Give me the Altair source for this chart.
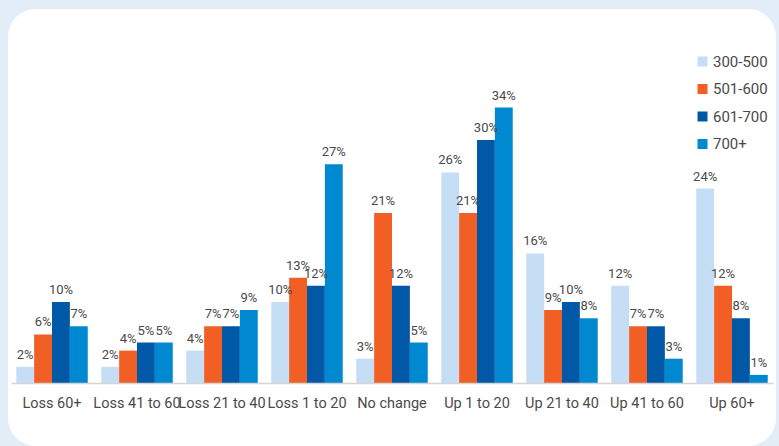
import altair as alt
import pandas as pd

# Score-change buckets and credit-score bands
categories = ["Loss 60+", "Loss 41 to 60", "Loss 21 to 40", "Loss 1 to 20",
              "No change", "Up 1 to 20", "Up 21 to 40", "Up 41 to 60", "Up 60+"]
bands = ["300-500", "501-600", "601-700", "700+"]
band_colors = ["#c6ddf6", "#f15f24", "#0058a6", "#0088d1"]

# Share of consumers (%) per bucket, one list per band
pct_300_500 = [2, 2, 4, 10, 3, 26, 16, 12, 24]
pct_501_600 = [6, 4, 7, 13, 21, 21, 9, 7, 12]
pct_601_700 = [10, 5, 7, 12, 12, 30, 10, 7, 8]
pct_700_plus = [7, 5, 9, 27, 5, 34, 8, 3, 1]

series = [pct_300_500, pct_501_600, pct_601_700, pct_700_plus]
rows = []
for band, values in zip(bands, series):
    for cat, v in zip(categories, values):
        rows.append({"cat": cat, "band": band, "val": v, "label": f"{v}%"})
df = pd.DataFrame(rows)

FONT = "Roboto"
TEXT = "#4a4a4a"

x_enc = alt.X("cat:N", sort=categories, title=None,
              scale=alt.Scale(paddingInner=0.159, paddingOuter=0.062),
              axis=alt.Axis(labelAngle=0, labelFontSize=14.5, labelColor=TEXT,
                            labelFont=FONT, labelPadding=13, ticks=False,
                            domainColor="#d4d4d4", domainWidth=1.5,
                            labelLimit=200, zindex=1))
xo_enc = alt.XOffset("band:N", sort=bands, scale=alt.Scale(paddingInner=0))
y_enc = alt.Y("val:Q", scale=alt.Scale(domain=[0, 40]), axis=None)

# White rounded card behind the plot
card = alt.Chart(alt.Data(values=[{"k": 1}])).mark_rect(
    color="white", cornerRadius=28
).encode(
    x=alt.value(-3), x2=alt.value(765),
    y=alt.value(-50), y2=alt.value(387)
)

bars = alt.Chart(df).mark_bar().encode(
    x=x_enc,
    xOffset=xo_enc,
    y=y_enc,
    color=alt.Color("band:N", sort=bands, title=None,
                    scale=alt.Scale(domain=bands, range=band_colors),
                    legend=alt.Legend(orient="none", legendX=684, legendY=-5,
                                      symbolType="square", symbolSize=100,
                                      symbolStrokeWidth=0,
                                      labelFontSize=15, labelColor=TEXT,
                                      labelFont=FONT, labelOffset=3,
                                      rowPadding=11.5, zindex=1))
)

labels = alt.Chart(df).mark_text(
    baseline="bottom", dy=-5, fontSize=13, color=TEXT, font=FONT
).encode(
    x=alt.X("cat:N", sort=categories),
    xOffset=alt.XOffset("band:N", sort=bands),
    y=alt.Y("val:Q"),
    text="label:N"
)

chart = alt.layer(card, bars, labels).properties(
    width=762, height=324,
    background="#e2edf8",
    padding={"left": 11, "top": 59, "right": 6, "bottom": 63},
    autosize=alt.AutoSizeParams(type="none")
).configure_view(stroke=None)

chart.save("out.html", embed_options={"renderer": "svg", "actions": False})
